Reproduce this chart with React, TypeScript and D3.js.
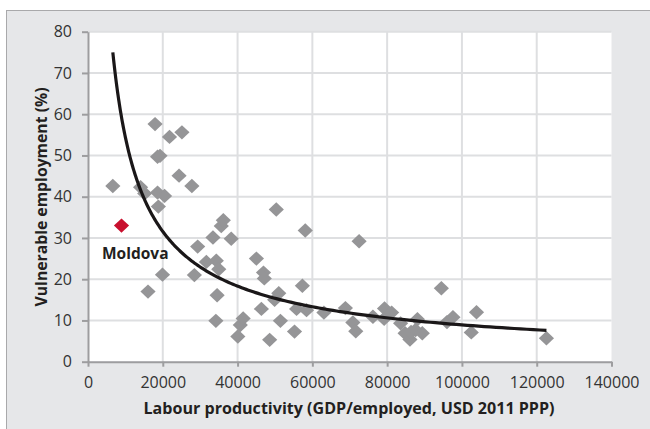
import React, { useEffect, useRef } from "react";
import * as d3 from "d3";

// Countries: labour productivity (GDP per employed person, USD 2011 PPP)
const productivity: number[] = [
  6640, 17930, 25120, 21800, 18600, 19260, 24350, 27780, 14060, 15160,
  18600, 20480, 18820, 16050, 19920, 29330, 28450, 31650, 33420, 34310,
  34970, 34530, 34200, 35640, 36190, 38300, 40070, 40730, 41500, 45040,
  46930, 47150, 46370, 48580, 50350, 51020, 49910, 51460, 55230, 55780,
  57330, 58100, 58440, 63090, 68840, 70830, 71610, 72500, 76200, 79300,
  79200, 81200, 83600, 84800, 86100, 86400, 88100, 87600, 89400, 94500,
  96000, 97600, 102500, 103900, 122600,
];
// Share of vulnerable employment (%)
const vulnerable: number[] = [
  42.6, 57.6, 55.6, 54.5, 49.7, 49.9, 45.1, 42.6, 42.3, 40.8,
  41.0, 40.2, 37.6, 17.0, 21.1, 27.9, 21.0, 24.2, 30.1, 24.5,
  22.4, 16.1, 9.9, 32.9, 34.3, 29.8, 6.1, 8.9, 10.5, 25.0,
  21.6, 20.2, 12.8, 5.3, 36.9, 16.6, 15.0, 9.9, 7.3, 12.8,
  18.4, 31.8, 12.5, 11.9, 13.0, 9.5, 7.4, 29.2, 10.9, 12.9,
  10.4, 11.9, 9.3, 6.9, 5.4, 7.2, 10.3, 7.7, 6.9, 17.8,
  9.6, 10.8, 7.1, 12.0, 5.7,
];

// Highlighted country
const highlightName = "Moldova";
const highlightProductivity = 8960;
const highlightVulnerable = 33.0;

// Power trend line  y = a * x^b
const trendA = 75075;
const trendB = -0.785;
const trendFrom = 6640;
const trendTo = 122600;

const xTicks: number[] = [0, 20000, 40000, 60000, 80000, 100000, 120000, 140000];
const yTicks: number[] = [0, 10, 20, 30, 40, 50, 60, 70, 80];

const xTitle = "Labour productivity (GDP/employed, USD 2011 PPP)";
const yTitle = "Vulnerable employment (%)";

const W = 650;
const H = 429;
const FONT = "'Open Sans', 'Noto Sans', sans-serif";

export default function App() {
  const ref = useRef<SVGSVGElement | null>(null);

  useEffect(() => {
    const svg = d3.select(ref.current);
    svg.selectAll("*").remove();

    const left = 88;
    const right = 611.5;
    const top = 31.7;
    const bottom = 361.7;

    const x = d3.scaleLinear().domain([0, 140000]).range([left, right]);
    const y = d3.scaleLinear().domain([0, 80]).range([bottom, top]);

    // outer panel
    svg.append("rect").attr("width", W).attr("height", H).attr("fill", "#ffffff");
    svg
      .append("rect")
      .attr("x", 6.5)
      .attr("y", 10.5)
      .attr("width", W)
      .attr("height", H)
      .attr("fill", "#e6e7e9")
      .attr("stroke", "#a9a9ab")
      .attr("stroke-width", 1);

    // plot area
    svg
      .append("rect")
      .attr("x", left)
      .attr("y", top)
      .attr("width", right - left)
      .attr("height", bottom - top)
      .attr("fill", "#ffffff");

    const grid = svg.append("g").attr("stroke", "#dedfe1").attr("stroke-width", 2);
    yTicks.slice(1).forEach((t) => {
      grid.append("line").attr("x1", left).attr("x2", right).attr("y1", y(t)).attr("y2", y(t));
    });
    xTicks.slice(1, -1).forEach((t) => {
      grid.append("line").attr("x1", x(t)).attr("x2", x(t)).attr("y1", top).attr("y2", bottom);
    });

    // axes
    const axisColor = "#9d9d9f";
    const yAxis = svg
      .append("g")
      .attr("transform", `translate(${left},0)`)
      .call(d3.axisLeft(y).tickValues(yTicks).tickSize(6).tickPadding(10).tickSizeOuter(0));
    const xAxis = svg
      .append("g")
      .attr("transform", `translate(0,${bottom})`)
      .call(
        d3
          .axisBottom(x)
          .tickValues(xTicks)
          .tickSize(5)
          .tickPadding(10)
          .tickSizeOuter(0)
          .tickFormat((d) => String(d))
      );
    [yAxis, xAxis].forEach((g) => {
      g.select(".domain").attr("stroke", axisColor).attr("stroke-width", 2);
      g.selectAll(".tick line").attr("stroke", axisColor).attr("stroke-width", 2);
      g.selectAll(".tick text")
        .attr("fill", "#333333")
        .style("font-family", FONT)
        .style("font-size", "16px");
    });

    // trend line
    const trendPts = d3.range(0, 201).map((i) => {
      const xv = trendFrom * Math.pow(trendTo / trendFrom, i / 200);
      return [xv, trendA * Math.pow(xv, trendB)] as [number, number];
    });
    const line = d3
      .line<[number, number]>()
      .x((d) => x(d[0]))
      .y((d) => y(d[1]))
      .curve(d3.curveLinear);

    // diamonds
    const diamond = (cx: number, cy: number) =>
      `M${cx},${cy - 7.2}L${cx + 7.6},${cy}L${cx},${cy + 7.2}L${cx - 7.6},${cy}Z`;

    const pts = svg.append("g");
    productivity.forEach((pv, i) => {
      pts
        .append("path")
        .attr("d", diamond(x(pv), y(vulnerable[i])))
        .attr("fill", "#959597");
    });

    svg
      .append("path")
      .attr("d", line(trendPts) || "")
      .attr("fill", "none")
      .attr("stroke", "#1a1718")
      .attr("stroke-width", 3.2);

    svg
      .append("path")
      .attr("d", diamond(x(highlightProductivity), y(highlightVulnerable)))
      .attr("fill", "#c8102e");

    svg
      .append("text")
      .attr("x", 102)
      .attr("y", 258.5)
      .attr("font-family", FONT)
      .attr("font-size", 15.5)
      .attr("font-weight", 700)
      .attr("fill", "#231f20")
      .text(highlightName);

    // axis titles
    svg
      .append("text")
      .attr("x", 349)
      .attr("y", 414)
      .attr("text-anchor", "middle")
      .attr("font-family", FONT)
      .attr("font-size", 16.5)
      .attr("font-weight", 700)
      .attr("fill", "#231f20")
      .attr("textLength", 411)
      .attr("lengthAdjust", "spacingAndGlyphs")
      .text(xTitle);

    svg
      .append("text")
      .attr("transform", `translate(47,197) rotate(-90)`)
      .attr("text-anchor", "middle")
      .attr("font-family", FONT)
      .attr("font-size", 16.5)
      .attr("font-weight", 700)
      .attr("fill", "#231f20")
      .attr("textLength", 219)
      .attr("lengthAdjust", "spacingAndGlyphs")
      .text(yTitle);
  }, []);

  return (
    <svg
      ref={ref}
      width={W}
      height={H}
      style={{ position: "absolute", left: 0, top: 0, display: "block" }}
    />
  );
}
